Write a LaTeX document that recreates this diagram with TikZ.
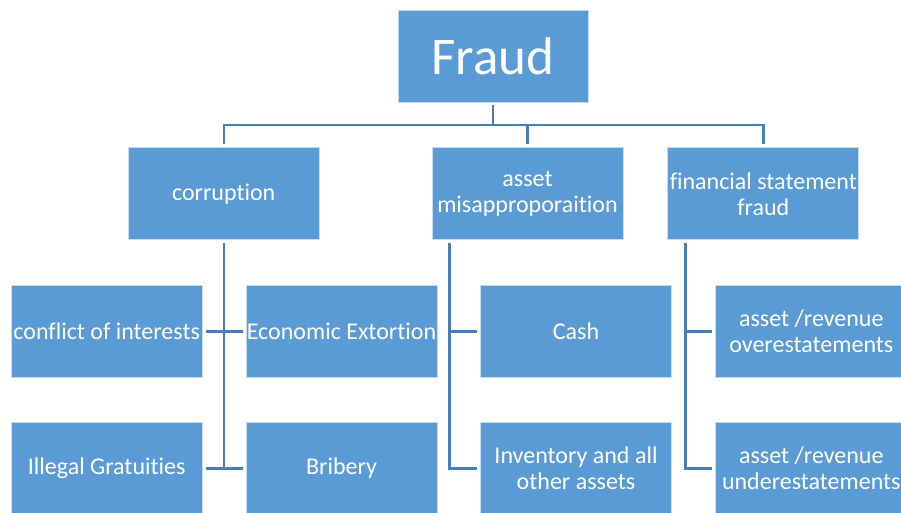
\documentclass[tikz,border=0pt]{standalone}
\usepackage{fontspec}
\setmainfont{Carlito}[RawFeature=-liga]
\usetikzlibrary{positioning,calc}
\definecolor{boxblue}{HTML}{5B9BD5}
\definecolor{lineblue}{HTML}{4A7EBB}
\tikzset{
  basic/.style  = {rectangle, fill=boxblue, draw=white!65!boxblue, line width=0.8pt,
    text=white, align=center, inner sep=0pt, minimum height=92pt},
  root/.style   = {basic, minimum width=190pt, font=\fontsize{53}{58}\selectfont},
  level 2/.style = {basic, minimum width=191pt, font=\fontsize{24}{26}\selectfont},
  level 3/.style = {basic, minimum width=191pt, font=\fontsize{24}{26}\selectfont},
  conn/.style   = {draw=lineblue, line width=2.4pt}
}

\begin{document}
\begin{tikzpicture}[x=1pt,y=-1pt]
\useasboundingbox (0,0) rectangle (901,513);

% root
    \node[root] (root) at (493,56) {Fraud};

% first level, relatively positioned
    \begin{scope}[every node/.style={level 2}]
      \node [below=45pt of root, xshift=34.5pt] (c2) {asset\\misapproporaition};
      \node [left=112pt of c2] (c1) {corruption};
      \node [right=44pt of c2] (c3) {financial statement\\fraud};
    \end{scope}

% second level
    \begin{scope}[every node/.style={level 3}]
      \node [below=45pt of c1, xshift=-117pt] (c11) {conflict of interests};
      \node [right=43pt of c11] (c12) {Economic Extortion};
      \node [below=44pt of c11] (c13) {Illegal Gratuities};
      \node [below=44pt of c12] (c14) {Bribery};
      \node [below=45pt of c2, xshift=48.5pt] (c21) {Cash};
      \node [below=44pt of c21] (c22) {Inventory and all\\other assets};
      \node [below=45pt of c3, xshift=48pt] (c31) {asset /revenue\\overestatements};
      \node [below=44pt of c31] (c32) {asset /revenue\\underestatements};
    \end{scope}

% lines from the root to the first level
    \coordinate (bus) at ($(root.south)!0.5!(c2.north)$);
    \draw[conn, shorten <=3pt, shorten >=3pt]
      (c1.north) -- (c1.north |- bus) -- (c3.north |- bus) -- (c3.north);
    \draw[conn, shorten <=3pt] (root.south) -- (root.south |- bus);
    \draw[conn, shorten <=3pt] (c2.north) -- (c2.north |- bus);

% corruption: trunk in the middle, branches both ways
    \draw[conn, shorten <=3pt] (c1.south) -- (c1.south |- c13.east);
    \foreach \value in {11,13}
    \draw[conn, shorten <=3pt] (c\value.east) -- (c1.south |- c\value.east);
    \foreach \value in {12,14}
    \draw[conn, shorten <=3pt] (c\value.west) -- (c1.south |- c\value.west);

% the other two: trunk at the left side
    \coordinate (t2) at ([xshift=18pt]c2.south west);
    \coordinate (t3) at ([xshift=18pt]c3.south west);
    \draw[conn, shorten <=3pt] (t2) -- (t2 |- c22.west) -- ([xshift=-3pt]c22.west);
    \draw[conn, shorten <=3pt] (t3) -- (t3 |- c32.west) -- ([xshift=-3pt]c32.west);
    \draw[conn, shorten <=3pt] (c21.west) -- (t2 |- c21.west);
    \draw[conn, shorten <=3pt] (c31.west) -- (t3 |- c31.west);
\end{tikzpicture}
\end{document}
